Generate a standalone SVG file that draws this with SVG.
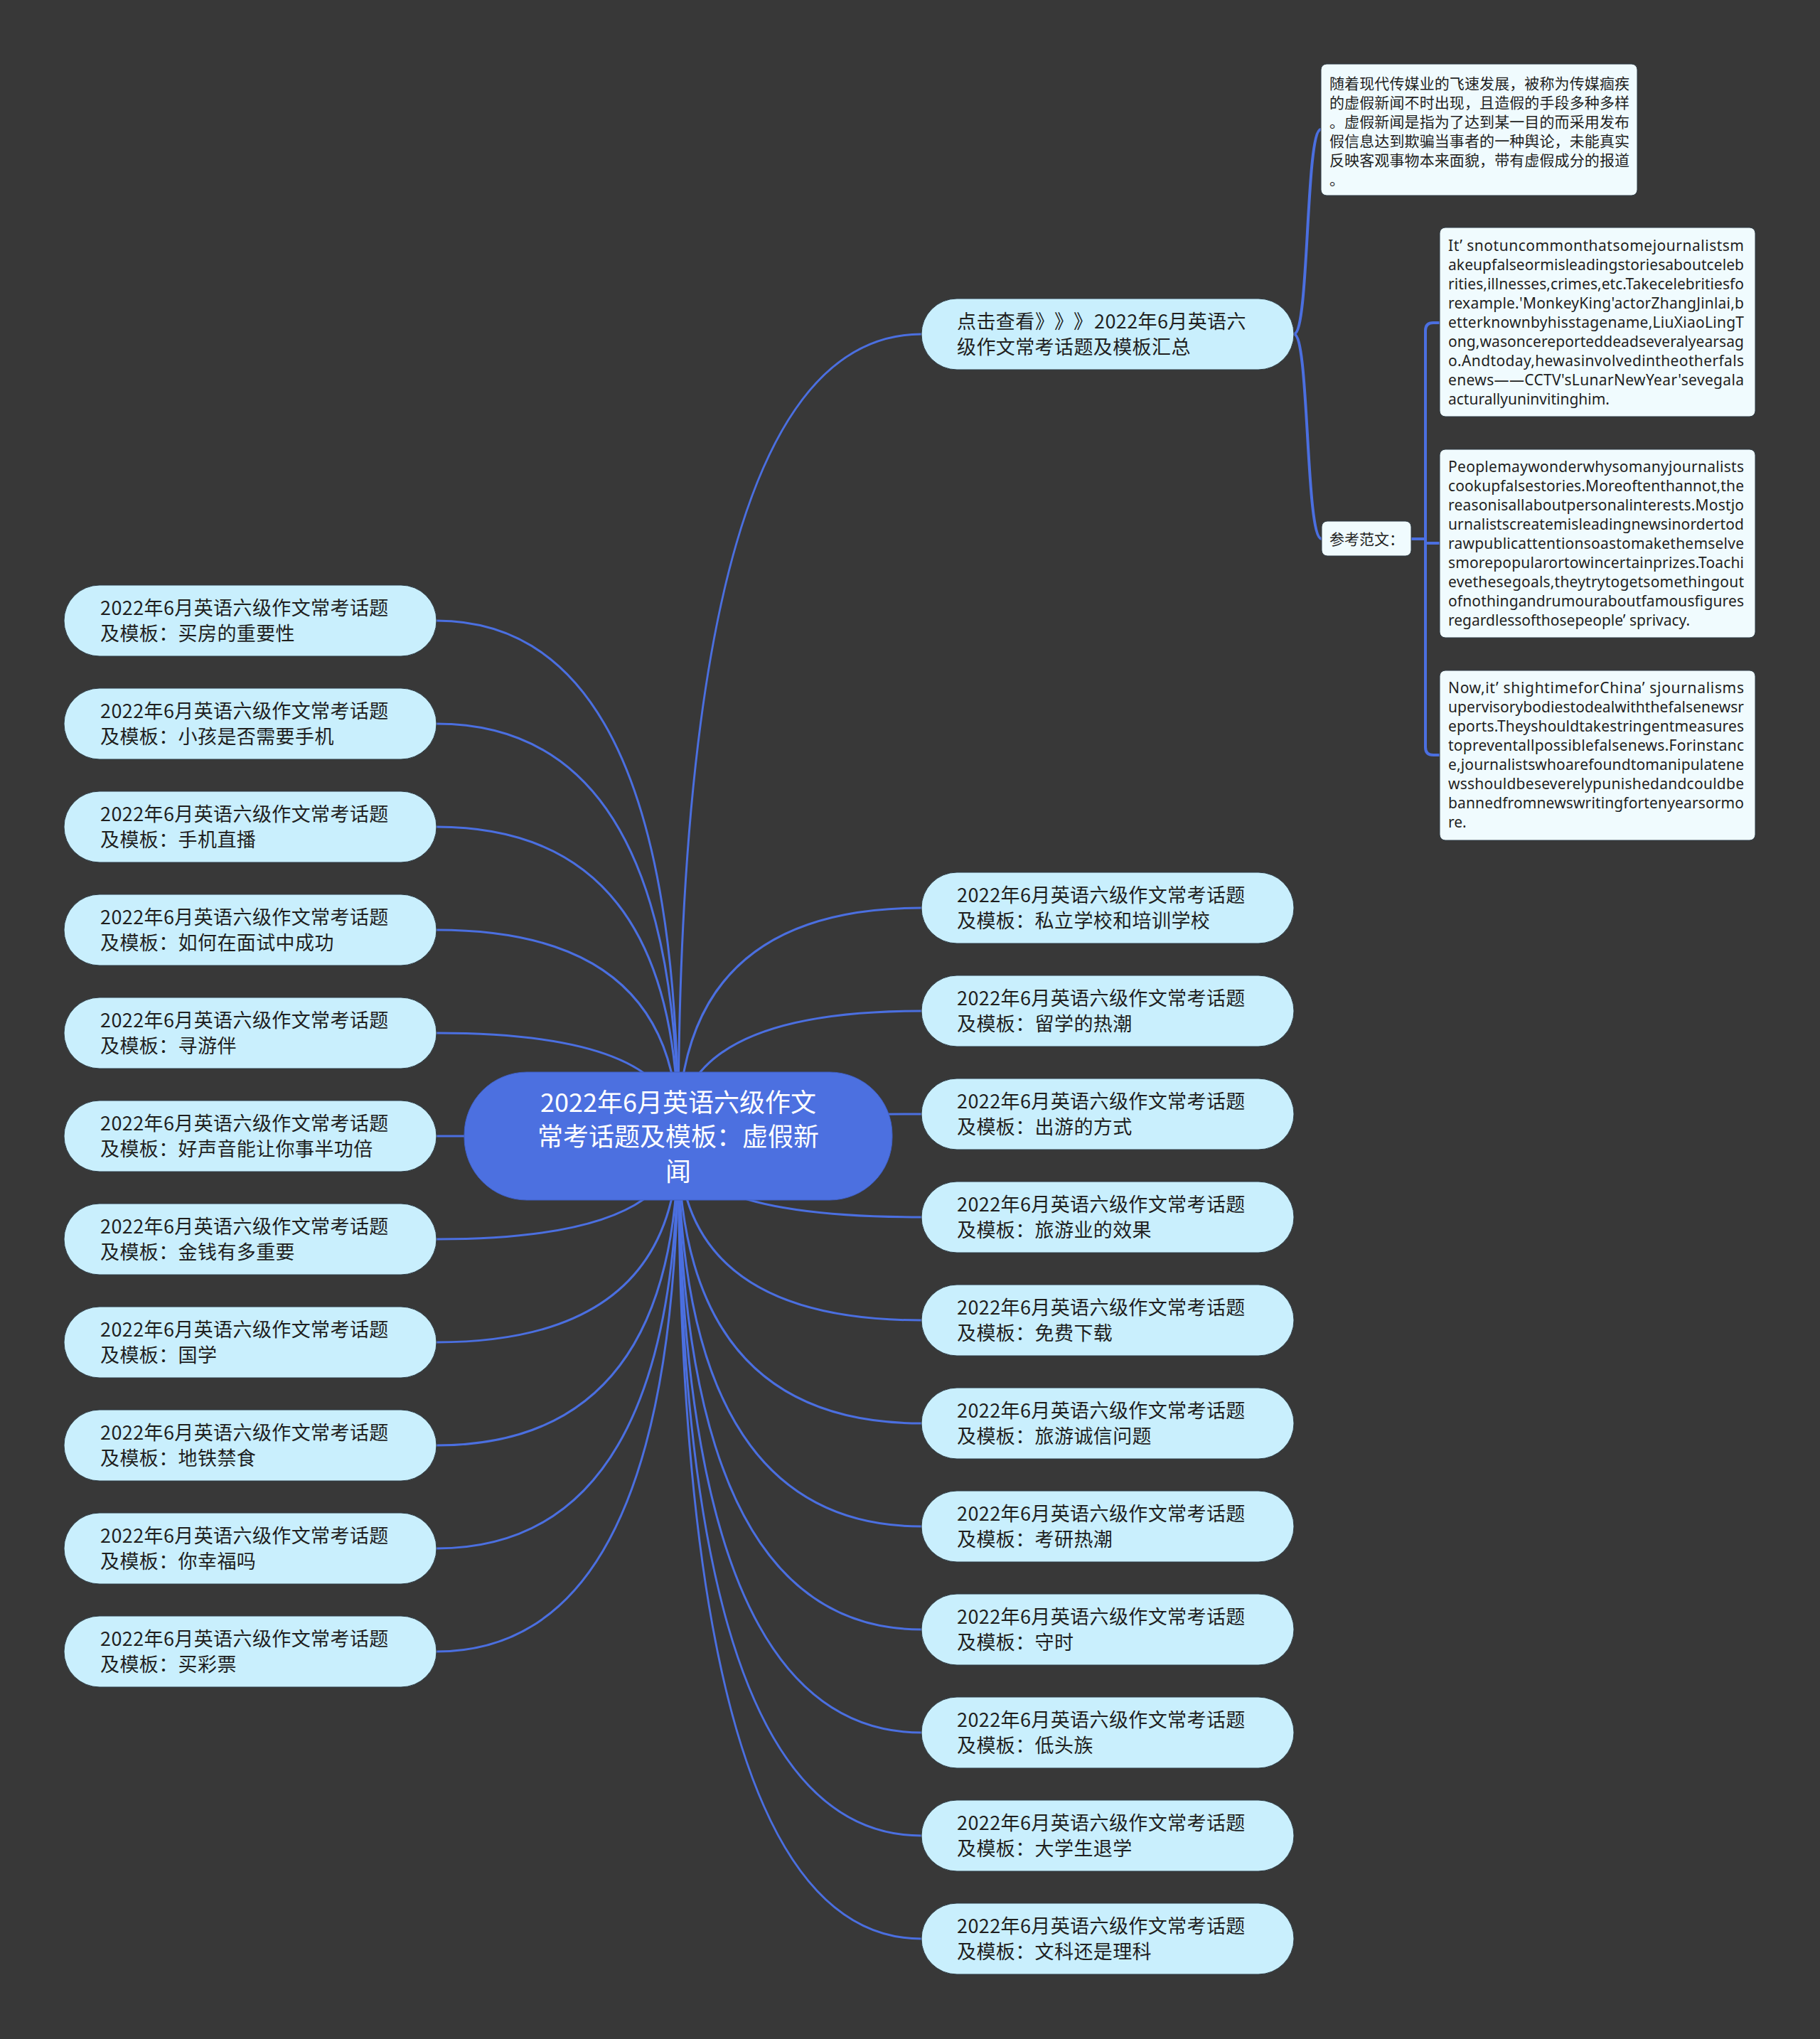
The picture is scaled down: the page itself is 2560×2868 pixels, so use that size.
<svg xmlns="http://www.w3.org/2000/svg" width="2560" height="2868" viewBox="0 0 2560 2868">
<style>
.bg{fill:#383838}
.ln{fill:none;stroke:#4b6fe0;stroke-width:3}
.ln2{fill:none;stroke:#4b6fe0;stroke-width:4}
.n rect{fill:#c9effd;stroke:#2e3b44;stroke-width:1}
.n text{font-family:"Noto Sans CJK SC","Noto Sans",sans-serif;font-size:27px;fill:#1f1f1f;letter-spacing:0.4px}
.root rect{fill:#4c70e0;stroke:#3f5fc4;stroke-width:1}
.root text{font-family:"Noto Sans CJK SC","Noto Sans",sans-serif;font-size:36px;fill:#ffffff;text-anchor:middle}
.t rect{fill:#f0fbfe;stroke:#2e3b44;stroke-width:1}
.t text{font-family:"Noto Sans","Noto Sans CJK SC",sans-serif;font-size:21px;fill:#1f1f1f}
.tc text{font-family:"Noto Sans CJK SC","Noto Sans",sans-serif;font-size:21px;fill:#1f1f1f}
</style>
<rect class="bg" x="0" y="0" width="2560" height="2868"/>
<g id="connectors">
<path class="ln" d="M954 1598 Q954 470 1296 470"/>
<path class="ln" d="M954 1598 Q954 1277 1296 1277"/>
<path class="ln" d="M954 1598 Q954 1422 1296 1422"/>
<path class="ln" d="M954 1598 Q954 1567 1296 1567"/>
<path class="ln" d="M954 1598 Q954 1712 1296 1712"/>
<path class="ln" d="M954 1598 Q954 1857 1296 1857"/>
<path class="ln" d="M954 1598 Q954 2002 1296 2002"/>
<path class="ln" d="M954 1598 Q954 2147 1296 2147"/>
<path class="ln" d="M954 1598 Q954 2292 1296 2292"/>
<path class="ln" d="M954 1598 Q954 2437 1296 2437"/>
<path class="ln" d="M954 1598 Q954 2582 1296 2582"/>
<path class="ln" d="M954 1598 Q954 2727 1296 2727"/>
<path class="ln" d="M954 1598 Q954 873 614 873"/>
<path class="ln" d="M954 1598 Q954 1018 614 1018"/>
<path class="ln" d="M954 1598 Q954 1163 614 1163"/>
<path class="ln" d="M954 1598 Q954 1308 614 1308"/>
<path class="ln" d="M954 1598 Q954 1453 614 1453"/>
<path class="ln" d="M954 1598 L614 1598"/>
<path class="ln" d="M954 1598 Q954 1743 614 1743"/>
<path class="ln" d="M954 1598 Q954 1888 614 1888"/>
<path class="ln" d="M954 1598 Q954 2033 614 2033"/>
<path class="ln" d="M954 1598 Q954 2178 614 2178"/>
<path class="ln" d="M954 1598 Q954 2323 614 2323"/>
<path class="ln2" d="M1820 470 C1842 470 1836 182 1858 182"/>
<path class="ln2" d="M1820 470 C1842 470 1836 758 1859 758"/>
<path class="ln2" d="M1985 758 H2005"/>
<path class="ln2" d="M2025 454 H2016 Q2005 454 2005 465 V1051 Q2005 1062 2016 1062 H2025"/>
<path class="ln2" d="M2005 764 H2025"/>
</g>
<g id="root" class="root">
<rect x="653" y="1508" width="602" height="180" rx="88"/>
<text x="954" y="1564">2022年6月英语六级作文</text>
<text x="954" y="1612">常考话题及模板：虚假新</text>
<text x="954" y="1661">闻</text>
</g>
<g id="top-node" class="n">
<rect x="1296" y="420" width="524" height="100" rx="50"/>
<text x="1346" y="462">点击查看<tspan x="1456">》</tspan><tspan x="1483">》</tspan><tspan x="1510">》</tspan><tspan x="1539">2022年6月英语六</tspan></text>
<text x="1346" y="498">级作文常考话题及模板汇总</text>
</g>
<g id="text-intro" class="t tc">
<rect x="1858" y="90" width="445" height="185" rx="8"/>
<text x="1870" y="125" textLength="422" lengthAdjust="spacing">随着现代传媒业的飞速发展，被称为传媒痼疾</text>
<text x="1870" y="152" textLength="422" lengthAdjust="spacing">的虚假新闻不时出现，且造假的手段多种多样</text>
<text x="1870" y="179" textLength="422" lengthAdjust="spacing">。虚假新闻是指为了达到某一目的而采用发布</text>
<text x="1870" y="206" textLength="422" lengthAdjust="spacing">假信息达到欺骗当事者的一种舆论，未能真实</text>
<text x="1870" y="233" textLength="422" lengthAdjust="spacing">反映客观事物本来面貌，带有虚假成分的报道</text>
<text x="1870" y="260">。</text>
</g>
<g id="ref-label" class="t tc">
<rect x="1859" y="733" width="126" height="49" rx="8"/>
<text x="1870" y="766">参考范文：</text>
</g>
<g id="text-p1" class="t">
<rect x="2025" y="320" width="444" height="266" rx="8"/>
<text x="2037" y="353" textLength="416" lengthAdjust="spacing">It’ snotuncommonthatsomejournalistsm</text>
<text x="2037" y="380" textLength="416" lengthAdjust="spacing">akeupfalseormisleadingstoriesaboutceleb</text>
<text x="2037" y="407" textLength="416" lengthAdjust="spacing">rities,illnesses,crimes,etc.Takecelebritiesfo</text>
<text x="2037" y="434" textLength="416" lengthAdjust="spacing">rexample.'MonkeyKing'actorZhangJinlai,b</text>
<text x="2037" y="461" textLength="416" lengthAdjust="spacing">etterknownbyhisstagename,LiuXiaoLingT</text>
<text x="2037" y="488" textLength="416" lengthAdjust="spacing">ong,wasoncereporteddeadseveralyearsag</text>
<text x="2037" y="515" textLength="416" lengthAdjust="spacing">o.Andtoday,hewasinvolvedintheotherfals</text>
<text x="2037" y="542" textLength="416" lengthAdjust="spacing">enews——CCTV'sLunarNewYear'sevegala</text>
<text x="2037" y="569">acturallyuninvitinghim.</text>
</g>
<g id="text-p2" class="t">
<rect x="2025" y="632" width="444" height="265" rx="8"/>
<text x="2037" y="664" textLength="416" lengthAdjust="spacing">Peoplemaywonderwhysomanyjournalists</text>
<text x="2037" y="691" textLength="416" lengthAdjust="spacing">cookupfalsestories.Moreoftenthannot,the</text>
<text x="2037" y="718" textLength="416" lengthAdjust="spacing">reasonisallaboutpersonalinterests.Mostjo</text>
<text x="2037" y="745" textLength="416" lengthAdjust="spacing">urnalistscreatemisleadingnewsinordertod</text>
<text x="2037" y="772" textLength="416" lengthAdjust="spacing">rawpublicattentionsoastomakethemselve</text>
<text x="2037" y="799" textLength="416" lengthAdjust="spacing">smorepopularortowincertainprizes.Toachi</text>
<text x="2037" y="826" textLength="416" lengthAdjust="spacing">evethesegoals,theytrytogetsomethingout</text>
<text x="2037" y="853" textLength="416" lengthAdjust="spacing">ofnothingandrumouraboutfamousfigures</text>
<text x="2037" y="880">regardlessofthosepeople’ sprivacy.</text>
</g>
<g id="text-p3" class="t">
<rect x="2025" y="943" width="444" height="239" rx="8"/>
<text x="2037" y="975" textLength="416" lengthAdjust="spacing">Now,it’ shightimeforChina’ sjournalisms</text>
<text x="2037" y="1002" textLength="416" lengthAdjust="spacing">upervisorybodiestodealwiththefalsenewsr</text>
<text x="2037" y="1029" textLength="416" lengthAdjust="spacing">eports.Theyshouldtakestringentmeasures</text>
<text x="2037" y="1056" textLength="416" lengthAdjust="spacing">topreventallpossiblefalsenews.Forinstanc</text>
<text x="2037" y="1083" textLength="416" lengthAdjust="spacing">e,journalistswhoarefoundtomanipulatene</text>
<text x="2037" y="1110" textLength="416" lengthAdjust="spacing">wsshouldbeseverelypunishedandcouldbe</text>
<text x="2037" y="1137" textLength="416" lengthAdjust="spacing">bannedfromnewswritingfortenyearsormo</text>
<text x="2037" y="1164">re.</text>
</g>
<g id="left-1" class="n"><rect x="90" y="823" width="524" height="100" rx="50"/><text x="141" y="865">2022年6月英语六级作文常考话题</text><text x="141" y="901">及模板：买房的重要性</text></g>
<g id="left-2" class="n"><rect x="90" y="968" width="524" height="100" rx="50"/><text x="141" y="1010">2022年6月英语六级作文常考话题</text><text x="141" y="1046">及模板：小孩是否需要手机</text></g>
<g id="left-3" class="n"><rect x="90" y="1113" width="524" height="100" rx="50"/><text x="141" y="1155">2022年6月英语六级作文常考话题</text><text x="141" y="1191">及模板：手机直播</text></g>
<g id="left-4" class="n"><rect x="90" y="1258" width="524" height="100" rx="50"/><text x="141" y="1300">2022年6月英语六级作文常考话题</text><text x="141" y="1336">及模板：如何在面试中成功</text></g>
<g id="left-5" class="n"><rect x="90" y="1403" width="524" height="100" rx="50"/><text x="141" y="1445">2022年6月英语六级作文常考话题</text><text x="141" y="1481">及模板：寻游伴</text></g>
<g id="left-6" class="n"><rect x="90" y="1548" width="524" height="100" rx="50"/><text x="141" y="1590">2022年6月英语六级作文常考话题</text><text x="141" y="1626">及模板：好声音能让你事半功倍</text></g>
<g id="left-7" class="n"><rect x="90" y="1693" width="524" height="100" rx="50"/><text x="141" y="1735">2022年6月英语六级作文常考话题</text><text x="141" y="1771">及模板：金钱有多重要</text></g>
<g id="left-8" class="n"><rect x="90" y="1838" width="524" height="100" rx="50"/><text x="141" y="1880">2022年6月英语六级作文常考话题</text><text x="141" y="1916">及模板：国学</text></g>
<g id="left-9" class="n"><rect x="90" y="1983" width="524" height="100" rx="50"/><text x="141" y="2025">2022年6月英语六级作文常考话题</text><text x="141" y="2061">及模板：地铁禁食</text></g>
<g id="left-10" class="n"><rect x="90" y="2128" width="524" height="100" rx="50"/><text x="141" y="2170">2022年6月英语六级作文常考话题</text><text x="141" y="2206">及模板：你幸福吗</text></g>
<g id="left-11" class="n"><rect x="90" y="2273" width="524" height="100" rx="50"/><text x="141" y="2315">2022年6月英语六级作文常考话题</text><text x="141" y="2351">及模板：买彩票</text></g>
<g id="right-1" class="n"><rect x="1296" y="1227" width="524" height="100" rx="50"/><text x="1346" y="1269">2022年6月英语六级作文常考话题</text><text x="1346" y="1305">及模板：私立学校和培训学校</text></g>
<g id="right-2" class="n"><rect x="1296" y="1372" width="524" height="100" rx="50"/><text x="1346" y="1414">2022年6月英语六级作文常考话题</text><text x="1346" y="1450">及模板：留学的热潮</text></g>
<g id="right-3" class="n"><rect x="1296" y="1517" width="524" height="100" rx="50"/><text x="1346" y="1559">2022年6月英语六级作文常考话题</text><text x="1346" y="1595">及模板：出游的方式</text></g>
<g id="right-4" class="n"><rect x="1296" y="1662" width="524" height="100" rx="50"/><text x="1346" y="1704">2022年6月英语六级作文常考话题</text><text x="1346" y="1740">及模板：旅游业的效果</text></g>
<g id="right-5" class="n"><rect x="1296" y="1807" width="524" height="100" rx="50"/><text x="1346" y="1849">2022年6月英语六级作文常考话题</text><text x="1346" y="1885">及模板：免费下载</text></g>
<g id="right-6" class="n"><rect x="1296" y="1952" width="524" height="100" rx="50"/><text x="1346" y="1994">2022年6月英语六级作文常考话题</text><text x="1346" y="2030">及模板：旅游诚信问题</text></g>
<g id="right-7" class="n"><rect x="1296" y="2097" width="524" height="100" rx="50"/><text x="1346" y="2139">2022年6月英语六级作文常考话题</text><text x="1346" y="2175">及模板：考研热潮</text></g>
<g id="right-8" class="n"><rect x="1296" y="2242" width="524" height="100" rx="50"/><text x="1346" y="2284">2022年6月英语六级作文常考话题</text><text x="1346" y="2320">及模板：守时</text></g>
<g id="right-9" class="n"><rect x="1296" y="2387" width="524" height="100" rx="50"/><text x="1346" y="2429">2022年6月英语六级作文常考话题</text><text x="1346" y="2465">及模板：低头族</text></g>
<g id="right-10" class="n"><rect x="1296" y="2532" width="524" height="100" rx="50"/><text x="1346" y="2574">2022年6月英语六级作文常考话题</text><text x="1346" y="2610">及模板：大学生退学</text></g>
<g id="right-11" class="n"><rect x="1296" y="2677" width="524" height="100" rx="50"/><text x="1346" y="2719">2022年6月英语六级作文常考话题</text><text x="1346" y="2755">及模板：文科还是理科</text></g>
</svg>
